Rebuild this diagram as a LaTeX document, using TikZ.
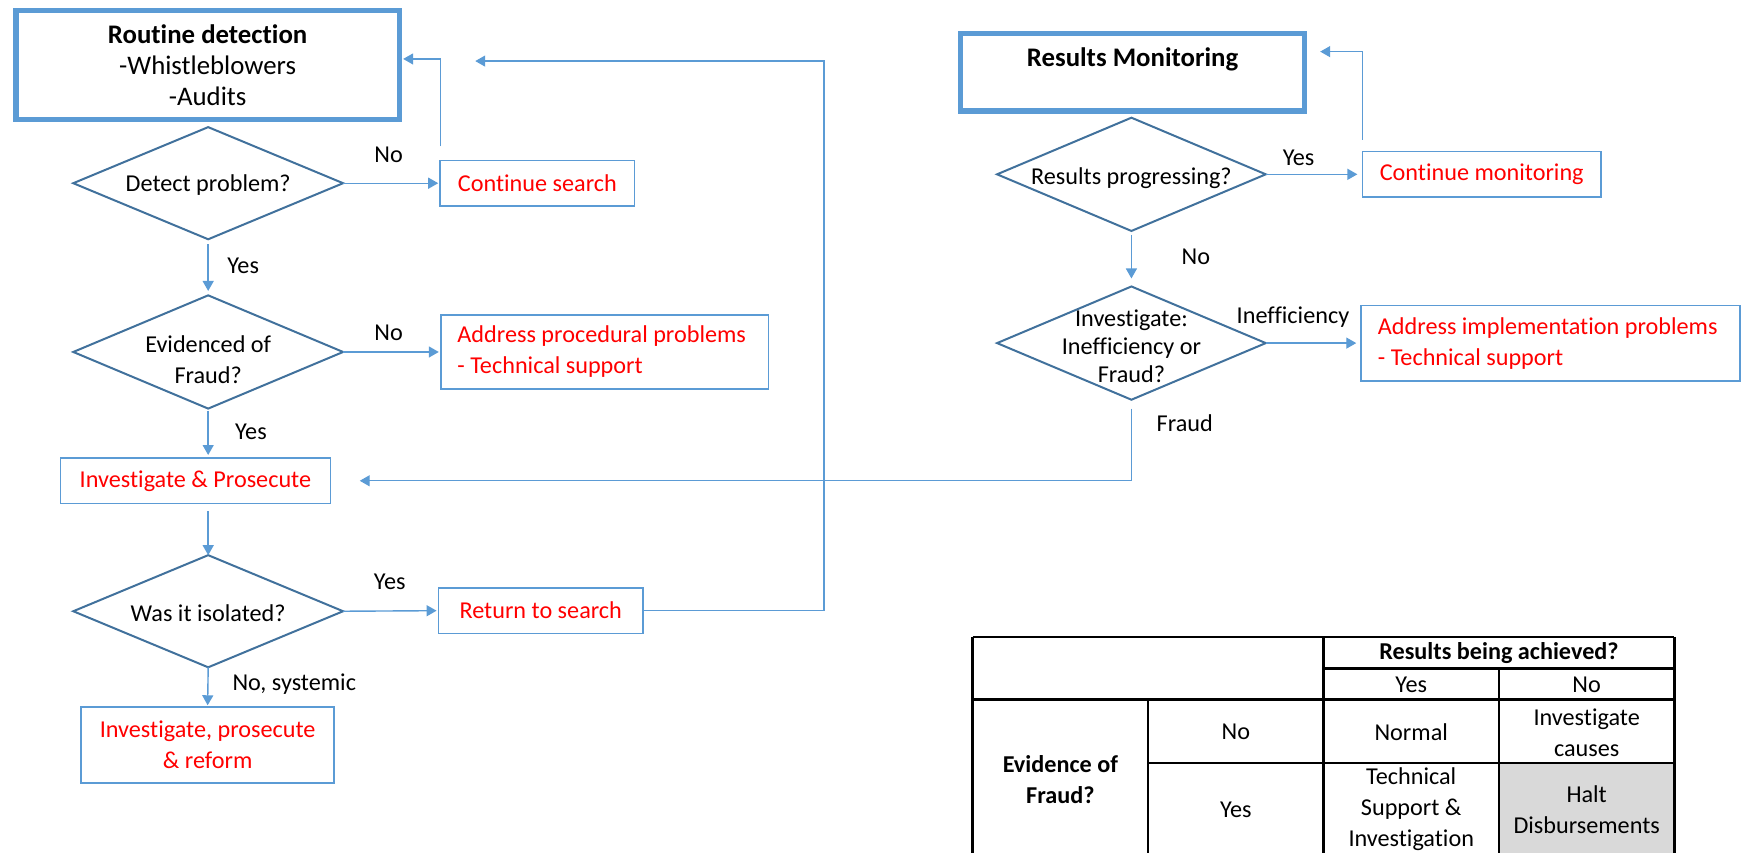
\documentclass[tikz,border=0pt]{standalone}
\usepackage{fontspec}
\setmainfont{Carlito}[Ligatures=NoCommon]
\usetikzlibrary{arrows.meta,shapes.geometric}
\definecolor{boxblue}{HTML}{5B9BD5}
\definecolor{diablue}{HTML}{41719C}
\definecolor{cellgray}{HTML}{D9D9D9}
\newcommand{\pxu}{0.555pt}
\begin{document}
\begin{tikzpicture}[x=\pxu, y=-\pxu,
  every node/.style={font=\fontsize{12.1}{15.5}\selectfont, inner sep=0pt, outer sep=0pt},
  box/.style={draw=boxblue, line width=0.8pt, text=red, align=center},
  leftbox/.style={draw=boxblue, line width=0.8pt, text=red, align=left,
    execute at begin node={\spaceskip=0pt\xspaceskip=0pt\relax}},
  titlebox/.style={draw=boxblue, line width=2.6pt, align=center,
    font=\fontsize{13.4}{15.5}\selectfont},
  dia/.style={diamond, draw=diablue, line width=1pt},
  dtext/.style={align=center},
  arr/.style={draw=boxblue, line width=0.7pt, -{Triangle[length=5pt,width=5.5pt]}},
  tbl/.style={draw=black, line width=1.2pt},
  cell/.style={align=center}]
\useasboundingbox (0,0) rectangle (1568,768);

% ---- left flow: routine detection ----
\node[titlebox, minimum width=345*\pxu, minimum height=98*\pxu] (rd) at (187,58.5)
  {\textbf{Routine detection}\\-Whistleblowers\\-Audits};

\node[dia, minimum width=243*\pxu, minimum height=101*\pxu] (d1) at (187.5,165) {};
\node[dtext] (d1t) at (187.5,167) {Detect problem?};

\node[box, minimum width=175*\pxu, minimum height=41*\pxu] (cs) at (484,165) {Continue search};

\node[dia, minimum width=243*\pxu, minimum height=102*\pxu] (d2) at (187.5,317) {};
\node[dtext] (d2t) at (187.5,324) {Evidenced of\\Fraud?};

\node[leftbox, text width=265*\pxu, inner xsep=15*\pxu, minimum height=67*\pxu] (ap) at (544.5,317)
  {Address procedural problems\\- Technical support};

\node[box, minimum width=243*\pxu, minimum height=41*\pxu] (ip) at (176,433) {Investigate \& Prosecute};

\node[dia, minimum width=243*\pxu, minimum height=101*\pxu] (d3) at (187.5,550.5) {};
\node[dtext] (d3t) at (187.5,552) {Was it isolated?};

\node[box, minimum width=184*\pxu, minimum height=41*\pxu] (rs) at (487,550) {Return to search};

\node[box, minimum width=228*\pxu, minimum height=68*\pxu] (ir) at (187,671)
  {Investigate, prosecute\\\& reform};

% ---- right flow: results monitoring ----
\node[titlebox, minimum width=310*\pxu, minimum height=70*\pxu] (rm) at (1020,65)
  {\textbf{Results Monitoring}\\\mbox{}};

\node[dia, minimum width=242*\pxu, minimum height=102*\pxu] (d4) at (1019,157) {};
\node[dtext] (d4t) at (1019,160.5) {Results progressing?};

\node[box, minimum width=215*\pxu, minimum height=41*\pxu] (cm) at (1334.5,157) {Continue monitoring};

\node[dia, minimum width=242*\pxu, minimum height=102*\pxu] (d5) at (1019,309) {};
\node[dtext, font=\fontsize{12.1}{14}\selectfont] (d5t) at (1019,312) {Investigate:\\Inefficiency or\\Fraud?};

\node[leftbox, text width=311*\pxu, inner xsep=15*\pxu, minimum height=68*\pxu] (aip) at (1396.5,309)
  {Address implementation problems\\- Technical support};

% ---- connectors ----
\coordinate (rdret) at (428,55);
\coordinate (rmret) at (1189,46.5);

\draw[arr, shorten >=1pt] (d1.east) -- (cs.west);
\draw[arr] ([yshift=7pt]cs.north west) |- ([xshift=2pt,yshift=3pt]rd.east);
\draw[arr] ([yshift=-2.5pt]d1.south) -- ([yshift=2.2pt]d2.north);
\draw[arr, shorten >=1pt] (d2.east) -- (ap.west);
\draw[arr] ([yshift=-1pt]d2.south) -- ([yshift=1.5pt]d2.south |- ip.north);
\draw[arr] ([yshift=-3.8pt]d3.north |- ip.south) -- (d3.north);
\draw[arr, shorten >=1pt] (d3.east) -- (rs.west);
\draw[arr] (rs.east) -- (742,550) -- (742,55) -- (rdret);
\draw[arr] (d3.south) -- ([yshift=1pt]ir.north);

\draw[arr] ([yshift=6pt]cm.north west) |- (rmret);
\draw[arr, shorten >=2.5pt] (d4.east) -- (cm.west);
\draw[arr] ([yshift=-2pt]d4.south) -- ([yshift=4pt]d5.north);
\draw[arr, shorten >=2.5pt] (d5.east) -- (aip.west);
\draw[arr] ([yshift=-4.5pt]d5.south) |- ([xshift=14.7pt]ip.east);

% ---- branch labels ----
\node (l1) at (350,139) {No};
\node (l2) at (219,239.5) {Yes};
\node (l3) at (350,300) {No};
\node (l4) at (226,389) {Yes};
\node (l5) at (351,524) {Yes};
\node (l6) at (265,616) {No, systemic};
\node (l7) at (1169.5,141.7) {Yes};
\node (l8) at (1077,231.7) {No};
\node (l9) at (1164.5,286) {Inefficiency};
\node (l10) at (1067,381) {Fraud};

% ---- decision table ----
\begin{scope}
\clip (0,0) rectangle (1568,768);
\fill[cellgray] (1350,687) rectangle (1508,780);
\draw[tbl] (876,573.5) -- (1508,573.5);
\draw[tbl] (1192,602) -- (1508,602);
\draw[tbl] (876,630) -- (1508,630);
\draw[tbl] (1034,687) -- (1508,687);
\draw[tbl] (876,573.5) -- (876,780);
\draw[tbl] (1034,630) -- (1034,780);
\draw[tbl] (1192,573.5) -- (1192,780);
\draw[tbl] (1350,602) -- (1350,780);
\draw[tbl] (1508,573.5) -- (1508,780);
\end{scope}

\node[cell] (th) at (1350,588) {\textbf{Results being achieved?}};
\node[cell] (thy) at (1271,617) {Yes};
\node[cell] (thn) at (1429,617) {No};
\node[cell] (rh) at (955,702) {\textbf{Evidence of}\\\textbf{Fraud?}};
\node[cell] (rno) at (1113,659) {No};
\node[cell] (rye) at (1113,729.5) {Yes};
\node[cell] (c11) at (1271,659) {Normal};
\node[cell] (c12) at (1429,659.5) {Investigate\\causes};
\node[cell] (c21) at (1271,729) {Technical\\Support \&\\Investigation};
\node[cell] (c22) at (1429,729.5) {Halt\\Disbursements};
\end{tikzpicture}
\end{document}
